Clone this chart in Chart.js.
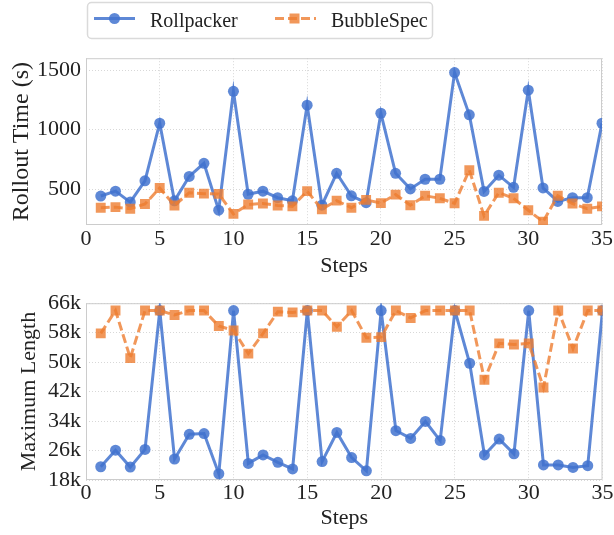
<!DOCTYPE html>
<html>
<head>
<meta charset="utf-8">
<script src="https://cdn.jsdelivr.net/npm/chart.js@4"></script>
<style>
  body { margin: 0; background: #fff; }
  #wrap { position: relative; width: 614px; height: 535px; overflow: hidden; }
  #c1 { position: absolute; left: 0; top: 40px; }
  #c2 { position: absolute; left: 0; top: 285px; }
  #legend { position: absolute; left: 0; top: 0; }
  #legend text { font-family: "Liberation Serif", "Times New Roman", serif; font-size: 20px; fill: #222; }
</style>
</head>
<body>
<div id="wrap">
  <canvas id="c1" width="614" height="245"></canvas>
  <canvas id="c2" width="614" height="250"></canvas>
  <svg id="legend" width="614" height="42">
    <rect x="87.5" y="2.5" width="345" height="36" rx="4" fill="#fff" stroke="#dadada" stroke-width="1.5"/>
    <line x1="94" y1="18.5" x2="135" y2="18.5" stroke="rgba(66,115,207,0.85)" stroke-width="3"/>
    <circle cx="114.5" cy="18.5" r="5.5" fill="rgba(66,115,207,0.85)"/>
    <text x="150" y="27">Rollpacker</text>
    <line x1="275" y1="18.5" x2="316" y2="18.5" stroke="rgba(237,125,49,0.8)" stroke-width="3" stroke-dasharray="9 4"/>
    <rect x="289.5" y="13.5" width="10" height="10" fill="rgba(237,125,49,0.8)"/>
    <text x="331" y="27">BubbleSpec</text>
  </svg>
</div>
<script>
// Steps on the x axis
const steps = [1, 2, 3, 4, 5, 6, 7, 8, 9, 10, 11, 12, 13, 14, 15, 16, 17, 18,
  19, 20, 21, 22, 23, 24, 25, 26, 27, 28, 29, 30, 31, 32, 33, 34, 35];
const xTicks = [0, 5, 10, 15, 20, 25, 30, 35];

// Rollout time (s)
const rollpackerTime = [443, 484, 392, 571, 1054, 403, 608, 718, 324, 1322,
  458, 484, 429, 403, 1206, 366, 634, 445, 387, 1138, 634, 503, 584, 584,
  1479, 1125, 482, 618, 516, 1332, 511, 398, 429, 429, 1054];
const bubbleSpecTime = [345, 350, 337, 376, 511, 364, 471, 463, 461, 293,
  372, 380, 364, 356, 484, 332, 405, 345, 411, 384, 455, 366, 445, 424,
  382, 660, 277, 471, 424, 324, 227, 445, 380, 337, 356];
const timeTicks = [500, 1000, 1500];

// Maximum length (tokens)
const rollpackerLen = [21600, 26100, 21500, 26300, 64000, 23700, 30400, 30600,
  19700, 64000, 22500, 24800, 22800, 21000, 64000, 23000, 30900, 24100, 20500,
  64000, 31400, 29300, 33900, 28700, 64000, 49700, 24800, 29100, 25100, 64000,
  22100, 22100, 21400, 21900, 64000];
const bubbleSpecLen = [57800, 64000, 51100, 64000, 64000, 62800, 64000, 64000,
  59800, 58600, 52300, 57800, 63700, 63500, 64000, 64000, 59600, 64000, 56600,
  56800, 64000, 62000, 64000, 64000, 64000, 64000, 45200, 55100, 54800, 55100,
  43100, 64000, 53700, 64000, 64000];
const lenTicks = [18000, 26000, 34000, 42000, 50000, 58000, 66000];

const blue = "rgba(66, 115, 207, 0.85)";
const orange = "rgba(237, 125, 49, 0.8)";
const serif = '"Liberation Serif", "Times New Roman", serif';

Chart.defaults.font.family = serif;
Chart.defaults.font.size = 22;
Chart.defaults.color = "#222";

const frame = {
  id: "frame",
  beforeDatasetsDraw(chart) {
    const { ctx, chartArea: a } = chart;
    ctx.save();
    ctx.strokeStyle = "#cccccc";
    ctx.lineWidth = 1;
    ctx.strokeRect(a.left + 0.5, a.top + 0.5, a.width - 1, a.height - 1);
    ctx.restore();
  }
};

function toPoints(ys) {
  return steps.map((s, i) => ({ x: s, y: ys[i] }));
}

function makeChart(id, blueData, orangeData, cfg) {
  return new Chart(document.getElementById(id), {
    type: "line",
    data: {
      datasets: [{
        label: "Rollpacker",
        data: toPoints(blueData),
        borderColor: blue,
        backgroundColor: blue,
        borderWidth: 3,
        pointStyle: "circle",
        pointRadius: 5.5,
        pointBorderWidth: 0,
        tension: 0,
        clip: 0,
        order: 2
      }, {
        label: "BubbleSpec",
        data: toPoints(orangeData),
        borderColor: orange,
        backgroundColor: orange,
        borderWidth: 3,
        borderDash: [9, 4],
        pointStyle: "rect",
        pointRadius: 7,
        pointBorderWidth: 0,
        tension: 0,
        clip: 0,
        order: 1
      }]
    },
    options: {
      responsive: false,
      animation: false,
      layout: { padding: { top: cfg.padTop, left: cfg.padLeft, right: 11.5, bottom: cfg.padBottom } },
      plugins: { legend: { display: false }, tooltip: { enabled: false } },
      scales: {
        x: {
          type: "linear",
          min: 0,
          max: 35,
          afterBuildTicks: s => { s.ticks = xTicks.map(v => ({ value: v })); },
          afterFit: s => { s.height = cfg.xAxisH; },
          ticks: { padding: cfg.xTickPad, maxRotation: 0 },
          grid: { color: "#d8d8d8", lineWidth: 1, drawTicks: false },
          border: { display: false, dash: [1, 2] },
          title: { display: true, text: "Steps", padding: { top: 4, bottom: 4 } }
        },
        y: {
          type: "linear",
          min: cfg.yMin,
          max: cfg.yMax,
          afterBuildTicks: s => { s.ticks = cfg.yTicks.map(v => ({ value: v })); },
          afterFit: s => { s.width = 86 - cfg.padLeft; },
          ticks: { padding: 5, callback: cfg.yFmt },
          grid: { color: "#d8d8d8", lineWidth: 1, drawTicks: false },
          border: { display: false, dash: [1, 2] },
          title: { display: true, text: cfg.yTitle, padding: { top: 4, bottom: 4 }, font: { size: cfg.yTitleSize } }
        }
      }
    },
    plugins: [frame]
  });
}

makeChart("c1", rollpackerTime, bubbleSpecTime, {
  yMin: 200, yMax: 1600, yTicks: timeTicks, yFmt: v => String(v),
  yTitle: "Rollout Time (s)", yTitleSize: 24,
  padTop: 7, padLeft: 3, padBottom: 2, xAxisH: 58, xTickPad: 1
});

makeChart("c2", rollpackerLen, bubbleSpecLen, {
  yMin: 18000, yMax: 66000, yTicks: lenTicks, yFmt: v => (v / 1000) + "k",
  yTitle: "Maximum Length", yTitleSize: 22,
  padTop: 17, padLeft: 12, padBottom: 0, xAxisH: 55, xTickPad: 0
});
</script>
</body>
</html>
